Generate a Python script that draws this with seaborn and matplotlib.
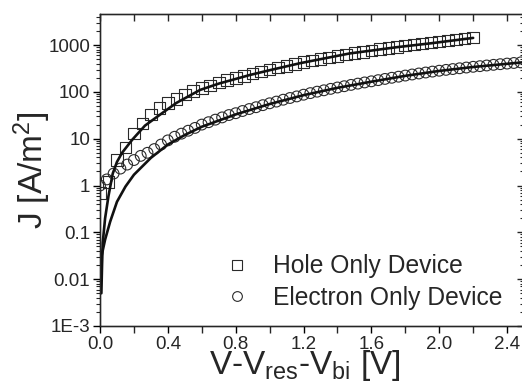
import numpy as np
import pandas as pd
import seaborn as sns
import matplotlib.pyplot as plt
from matplotlib.lines import Line2D

# hole only device: measured points (V, J)
hole_v = [0.00, 0.05, 0.10, 0.15, 0.20, 0.25, 0.30, 0.35, 0.40, 0.45, 0.50, 0.55,
          0.60, 0.65, 0.70, 0.75, 0.80, 0.85, 0.90, 0.95, 1.00, 1.05, 1.10, 1.15,
          1.20, 1.25, 1.30, 1.35, 1.40, 1.45, 1.50, 1.55, 1.60, 1.65, 1.70, 1.75,
          1.80, 1.85, 1.90, 1.95, 2.00, 2.05, 2.10, 2.15, 2.20]
hole_j = [0.7, 1.2, 3.5, 6.5, 13, 21, 33, 45, 58, 70, 88, 105,
          122, 138, 158, 180, 200, 220, 245, 272, 300, 330, 362, 396,
          432, 468, 507, 546, 588, 630, 675, 720, 768, 816, 866, 918,
          970, 1025, 1080, 1140, 1200, 1260, 1320, 1385, 1450]

# electron only device: measured points (V, J)
elec_v = [0.00, 0.04, 0.08, 0.12, 0.16, 0.20, 0.24, 0.28, 0.32, 0.36, 0.40, 0.44,
          0.48, 0.52, 0.56, 0.60, 0.64, 0.68, 0.72, 0.76, 0.80, 0.84, 0.88, 0.92,
          0.96, 1.00, 1.04, 1.08, 1.12, 1.16, 1.20, 1.24, 1.28, 1.32, 1.36, 1.40,
          1.44, 1.48, 1.52, 1.56, 1.60, 1.64, 1.68, 1.72, 1.76, 1.80, 1.84, 1.88,
          1.92, 1.96, 2.00, 2.04, 2.08, 2.12, 2.16, 2.20, 2.24, 2.28, 2.32, 2.36,
          2.40, 2.44, 2.48]
elec_j = [1.0, 1.35, 1.8, 2.3, 2.8, 3.5, 4.3, 5.0, 6.0, 7.5, 9.2, 11,
          12.8, 14.8, 17, 20, 22.5, 25.5, 28.5, 32, 35, 39, 43, 47,
          52, 57, 62, 68, 74, 80, 87, 94, 101, 108, 116, 124,
          132, 141, 150, 159, 168, 178, 189, 200, 211, 223, 235, 247,
          259, 271, 283, 295, 307, 319, 331, 343, 354, 366, 378, 390,
          402, 414, 426]

# fit curves
hole_fit_v = [0.008, 0.012, 0.016, 0.03, 0.05, 0.075, 0.10, 0.13, 0.19, 0.265, 0.34,
              0.45, 0.59, 0.70, 0.885, 1.00, 1.18, 1.47, 1.75, 1.96, 2.20]
hole_fit_j = [0.005, 0.02, 0.06, 0.2, 0.6, 1.8, 3.2, 5.0, 9.5, 19, 30,
              58, 110, 150, 230, 290, 410, 660, 900, 1100, 1420]
elec_fit_v = [0.008, 0.03, 0.06, 0.10, 0.15, 0.20, 0.30, 0.40, 0.50, 0.60, 0.80,
              1.00, 1.20, 1.40, 1.60, 1.80, 2.00, 2.20, 2.50]
elec_fit_j = [0.03, 0.07, 0.17, 0.45, 0.95, 1.7, 3.9, 7.5, 12, 18, 33,
              55, 85, 122, 165, 220, 280, 340, 430]

y_ticks = [1e-3, 1e-2, 1e-1, 1, 10, 100, 1000]
y_tick_labels = ["1E-3", "0.01", "0.1", "1", "10", "100", "1000"]
x_ticks = [0.0, 0.4, 0.8, 1.2, 1.6, 2.0, 2.4]

hole = pd.DataFrame({"V": hole_v, "J": hole_j})
elec = pd.DataFrame({"V": elec_v, "J": elec_j})
hole_fit = pd.DataFrame({"V": hole_fit_v, "J": hole_fit_j})
elec_fit = pd.DataFrame({"V": elec_fit_v, "J": elec_fit_j})

sns.set_style("ticks")
plt.rcParams["font.family"] = ["Liberation Sans", "DejaVu Sans"]
plt.rcParams["mathtext.fontset"] = "custom"
plt.rcParams["mathtext.rm"] = "Liberation Sans"
plt.rcParams["mathtext.it"] = "Liberation Sans:italic"

fig = plt.figure(figsize=(5.22, 3.88), dpi=100)
ax = fig.add_axes([0.1916, 0.1598, 0.8123, 0.8041])

sns.scatterplot(data=hole, x="V", y="J", marker="s", s=70, facecolor="none",
                edgecolor="#2a2a2a", linewidth=0.8, ax=ax, zorder=2)
sns.scatterplot(data=elec, x="V", y="J", marker="o", s=60, facecolor="none",
                edgecolor="#2a2a2a", linewidth=0.8, ax=ax, zorder=2)
sns.lineplot(data=hole_fit, x="V", y="J", color="#111111", linewidth=1.9, ax=ax, zorder=3)
sns.lineplot(data=elec_fit, x="V", y="J", color="#111111", linewidth=1.9, ax=ax, zorder=3)

ax.set_yscale("log")
ax.set_xlim(0, 2.5)
ax.set_ylim(1e-3, 4600)
ax.set_xticks(x_ticks)
ax.set_xticks(np.arange(0.2, 2.5, 0.4), minor=True)
ax.set_xticklabels([f"{t:.1f}" for t in x_ticks])
ax.set_yticks(y_ticks)
ax.set_yticklabels(y_tick_labels)

ax.tick_params(axis="both", which="major", direction="out", length=5, width=1,
               labelsize=13.5, color="black", pad=2)
ax.tick_params(axis="x", which="minor", direction="out", length=5, width=1)
ax.tick_params(axis="y", which="minor", direction="out", length=3, width=0.8)
for sp in ax.spines.values():
    sp.set_linewidth(1.0)
    sp.set_color("black")

# top and right axes with inward ticks
ax_top = ax.twiny()
ax_top.set_xlim(ax.get_xlim())
ax_top.set_xticks(x_ticks)
ax_top.set_xticks(np.arange(0.2, 2.5, 0.4), minor=True)
ax_top.tick_params(axis="x", which="both", direction="in", length=5, width=1, labeltop=False)
ax_right = ax.twinx()
ax_right.set_yscale("log")
ax_right.set_ylim(ax.get_ylim())
ax_right.set_yticks(y_ticks)
ax_right.tick_params(axis="y", which="major", direction="in", length=5, width=1, labelright=False)
ax_right.tick_params(axis="y", which="minor", direction="in", length=3, width=0.8)

ax.set_xlabel("V-V$_{\\mathrm{res}}$-V$_{\\mathrm{bi}}$ [V]", fontsize=24)
ax.set_ylabel("J [A/m$^2$]", fontsize=24)
ax.xaxis.set_label_coords(0.483, -0.072)
ax.yaxis.set_label_coords(-0.11, 0.5)

handles = [
    Line2D([], [], linestyle="none", marker="s", markersize=6.5, markerfacecolor="none",
           markeredgecolor="#2a2a2a", markeredgewidth=0.8),
    Line2D([], [], linestyle="none", marker="o", markersize=7, markerfacecolor="none",
           markeredgecolor="#2a2a2a", markeredgewidth=0.8),
]
ax.legend(handles, ["Hole Only Device", "Electron Only Device"], loc="center left",
          bbox_to_anchor=(0.295, 0.141), frameon=False, fontsize=17.7,
          handlelength=1.0, handletextpad=0.96, labelspacing=0.3,
          borderpad=0, borderaxespad=0)

fig.savefig("out.png", dpi=100)
